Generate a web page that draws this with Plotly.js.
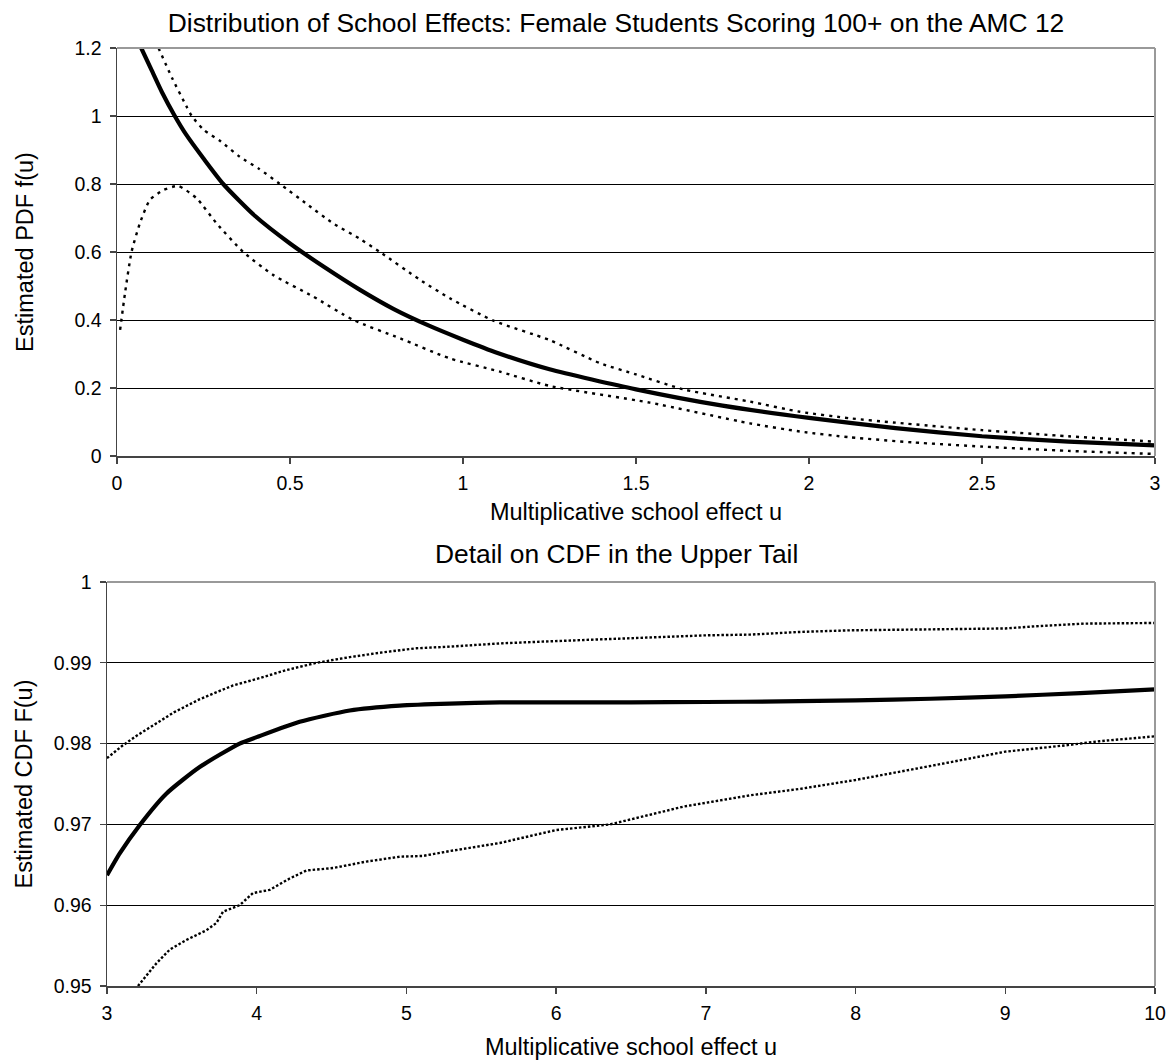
<!DOCTYPE html>
<html>
<head>
<meta charset="utf-8">
<script src="https://cdn.plot.ly/plotly-3.0.1.min.js"></script>
<style>
  html, body { margin: 0; padding: 0; background: #ffffff; }
  #chart { width: 1166px; height: 1064px; }
</style>
</head>
<body>
<div id="chart"></div>
<script>
// ---------- Top panel: estimated PDF f(u) ----------
var pdfU = [0.07, 0.1, 0.13, 0.167, 0.2, 0.25, 0.307, 0.4, 0.5, 0.6, 0.7, 0.8, 0.9, 1.0, 1.1, 1.25, 1.5, 1.75, 2.0, 2.25, 2.5, 2.75, 3.0];
var pdfEst = [1.2, 1.135, 1.07, 1.0, 0.945, 0.875, 0.8, 0.705, 0.625, 0.555, 0.49, 0.432, 0.384, 0.342, 0.303, 0.255, 0.196, 0.148, 0.112, 0.082, 0.058, 0.042, 0.031];

var pdfUpperU = [0.12, 0.16, 0.2, 0.216, 0.25, 0.3, 0.355, 0.41, 0.471, 0.55, 0.625, 0.7, 0.76, 0.876, 0.962, 1.088, 1.25, 1.396, 1.5, 1.637, 1.829, 1.974, 2.118, 2.25, 2.5, 2.75, 3.0];
var pdfUpper = [1.2, 1.11, 1.03, 1.0, 0.96, 0.925, 0.88, 0.845, 0.8, 0.74, 0.684, 0.64, 0.6, 0.518, 0.464, 0.398, 0.341, 0.273, 0.24, 0.196, 0.16, 0.13, 0.111, 0.098, 0.076, 0.058, 0.042];

var pdfLowerU = [0.009, 0.023, 0.042, 0.066, 0.095, 0.134, 0.177, 0.23, 0.288, 0.365, 0.452, 0.567, 0.683, 0.818, 0.962, 1.107, 1.251, 1.54, 1.829, 1.974, 2.118, 2.3, 2.504, 2.75, 3.0];
var pdfLower = [0.371, 0.478, 0.6, 0.684, 0.753, 0.782, 0.794, 0.758, 0.684, 0.6, 0.532, 0.469, 0.4, 0.346, 0.287, 0.248, 0.206, 0.157, 0.096, 0.072, 0.055, 0.04, 0.0275, 0.015, 0.006];

// ---------- Bottom panel: estimated CDF F(u), upper tail ----------
var cdfU = [3.0, 3.085, 3.218, 3.396, 3.619, 3.886, 4.0, 4.287, 4.621, 4.955, 5.29, 5.624, 5.96, 6.5, 7.0, 7.5, 8.0, 8.5, 9.0, 9.5, 10.0];
var cdfEst = [0.9637, 0.9664, 0.9699, 0.9738, 0.9771, 0.98, 0.9808, 0.9827, 0.9841, 0.9847, 0.98495, 0.9851, 0.9851, 0.9851, 0.98515, 0.98522, 0.98535, 0.98555, 0.98585, 0.98625, 0.98672];

var cdfUpperU = [3.0, 3.1, 3.2, 3.3, 3.45, 3.62, 3.842, 4.0, 4.198, 4.399, 4.621, 4.844, 5.067, 5.29, 5.624, 5.96, 6.3, 6.628, 7.0, 7.296, 7.63, 7.963, 8.4, 8.75, 9.0, 9.2, 9.53, 10.0];
var cdfUpper = [0.9782, 0.9797, 0.981, 0.9822, 0.9839, 0.9855, 0.9872, 0.988, 0.9891, 0.99, 0.9907, 0.9913, 0.9918, 0.992, 0.9924, 0.99266, 0.9929, 0.9932, 0.9934, 0.99349, 0.99382, 0.99402, 0.9941, 0.99423, 0.99425, 0.99452, 0.99485, 0.99493];

var cdfLowerU = [3.207, 3.33, 3.419, 3.53, 3.664, 3.731, 3.775, 3.886, 3.975, 4.087, 4.22, 4.332, 4.51, 4.733, 4.955, 5.111, 5.29, 5.624, 6.0, 6.36, 6.85, 7.296, 7.63, 8.0, 8.52, 9.0, 9.41, 9.63, 10.0];
var cdfLower = [0.95, 0.9528, 0.9545, 0.9557, 0.9569, 0.9578, 0.9592, 0.96, 0.9615, 0.9619, 0.9633, 0.9643, 0.9646, 0.9654, 0.966, 0.9661, 0.9667, 0.9677, 0.9693, 0.97, 0.9722, 0.9736, 0.9744, 0.9755, 0.9773, 0.979, 0.9798, 0.9803, 0.9809];

// ---------- Text ----------
var topTitle = 'Distribution of School Effects: Female Students Scoring 100+ on the AMC 12';
var bottomTitle = 'Detail on CDF in the Upper Tail';
var xTitle = 'Multiplicative school effect u';
var yTitleTop = 'Estimated PDF f(u)';
var yTitleBottom = 'Estimated CDF F(u)';

var FONT = '"Liberation Sans", Arial, Helvetica, sans-serif';
var W = 1166, H = 1064;
var TICK = 19.5, AXT = 23.5, TTL = 26.4;

var solid = {color: '#000000', width: 4.2, shape: 'spline', smoothing: 0.6};
var dotTop = {color: '#000000', width: 2.4, dash: '3px,5px', shape: 'spline', smoothing: 0.6};
var dotBot = {color: '#000000', width: 2.4, dash: '2.5px,2px'};

var traces = [
  {x: pdfU, y: pdfEst, xaxis: 'x', yaxis: 'y', mode: 'lines', line: solid, hoverinfo: 'skip'},
  {x: pdfUpperU, y: pdfUpper, xaxis: 'x', yaxis: 'y', mode: 'lines', line: dotTop, hoverinfo: 'skip'},
  {x: pdfLowerU, y: pdfLower, xaxis: 'x', yaxis: 'y', mode: 'lines', line: dotTop, hoverinfo: 'skip'},
  {x: cdfU, y: cdfEst, xaxis: 'x2', yaxis: 'y2', mode: 'lines', line: solid, hoverinfo: 'skip'},
  {x: cdfUpperU, y: cdfUpper, xaxis: 'x2', yaxis: 'y2', mode: 'lines', line: dotBot, hoverinfo: 'skip'},
  {x: cdfLowerU, y: cdfLower, xaxis: 'x2', yaxis: 'y2', mode: 'lines', line: dotBot, hoverinfo: 'skip'}
];

function xAxis(domain, range, dtick, anchor, standoff) {
  return {
    domain: domain, range: range, dtick: dtick, tick0: range[0], anchor: anchor,
    showgrid: false, zeroline: false, showline: true, linecolor: '#444444', linewidth: 1.5,
    ticks: 'outside', ticklen: 6, tickwidth: 1.3, tickcolor: '#444444',
    tickfont: {family: FONT, size: TICK, color: '#000000'},
    ticklabelstandoff: 3,
    title: {text: xTitle, font: {family: FONT, size: AXT, color: '#000000'}, standoff: standoff},
    automargin: false, fixedrange: true
  };
}
function yAxis(domain, range, dtick, anchor, title, standoff) {
  return {
    domain: domain, range: range, dtick: dtick, tick0: range[0], anchor: anchor,
    showgrid: true, gridcolor: '#000000', gridwidth: 1,
    zeroline: false, showline: true, linecolor: '#444444', linewidth: 1.5,
    ticks: 'outside', ticklen: 6, tickwidth: 1.3, tickcolor: '#444444',
    tickfont: {family: FONT, size: TICK, color: '#000000'},
    ticklabelstandoff: 4,
    title: {text: title, font: {family: FONT, size: AXT, color: '#000000'}, standoff: standoff},
    automargin: false, fixedrange: true
  };
}

var layout = {
  width: W, height: H,
  margin: {l: 0, r: 0, t: 0, b: 0},
  paper_bgcolor: '#ffffff', plot_bgcolor: '#ffffff',
  showlegend: false,
  font: {family: FONT, color: '#000000'},
  title: {text: topTitle, font: {family: FONT, size: TTL, color: '#000000'},
          x: 616 / W, xanchor: 'center', y: 1 - 23 / H, yanchor: 'middle', xref: 'paper', yref: 'paper'},
  xaxis: xAxis([117 / W, 1155 / W], [0, 3], 0.5, 'y', 10),
  yaxis: yAxis([1 - 456 / H, 1 - 48 / H], [0, 1.2], 0.2, 'x', yTitleTop, 34),
  xaxis2: xAxis([107 / W, 1155 / W], [3, 10], 1, 'y2', 15),
  yaxis2: yAxis([1 - 986 / H, 1 - 582 / H], [0.95, 1], 0.01, 'x2', yTitleBottom, 14),
  annotations: [
    {text: bottomTitle, xref: 'paper', yref: 'paper', x: 616 / W, y: 1 - 554 / H,
     xanchor: 'center', yanchor: 'middle', showarrow: false,
     font: {family: FONT, size: TTL, color: '#000000'}}
  ],
  shapes: [
    {type: 'line', xref: 'x domain', yref: 'y domain', x0: 0, x1: 1, y0: 1, y1: 1, line: {color: '#999999', width: 2}},
    {type: 'line', xref: 'x domain', yref: 'y domain', x0: 1, x1: 1, y0: 0, y1: 1, line: {color: '#999999', width: 2}},
    {type: 'line', xref: 'x2 domain', yref: 'y2 domain', x0: 0, x1: 1, y0: 1, y1: 1, line: {color: '#999999', width: 2}},
    {type: 'line', xref: 'x2 domain', yref: 'y2 domain', x0: 1, x1: 1, y0: 0, y1: 1, line: {color: '#999999', width: 2}}
  ]
};

Plotly.newPlot('chart', traces, layout, {displayModeBar: false, staticPlot: true});
</script>
</body>
</html>
